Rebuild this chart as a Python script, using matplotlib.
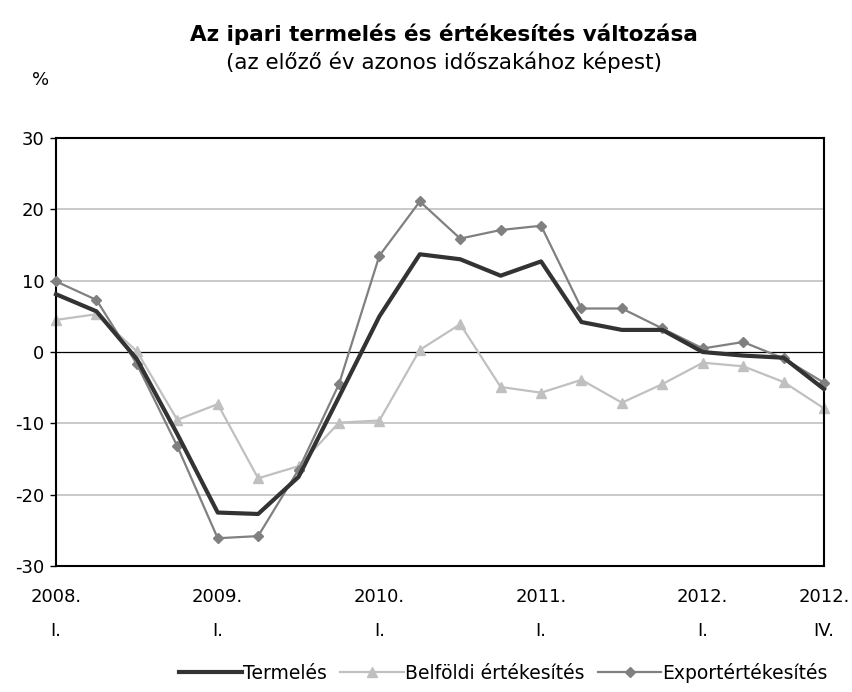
import numpy as np
import matplotlib.pyplot as plt

plt.rcParams['font.family'] = ['DejaVu Sans']
plt.rcParams['axes.unicode_minus'] = False

# quarters 2008 Q1 .. 2012 Q4
quarters = np.arange(20)
termeles = [8.1, 5.7, -1.0, -11.5, -22.5, -22.7, -17.5, -6.3, 5.0, 13.7,
            13.0, 10.7, 12.7, 4.2, 3.1, 3.1, 0.0, -0.5, -0.8, -5.2]
belfoldi = [4.5, 5.3, 0.1, -9.5, -7.3, -17.7, -16.0, -9.9, -9.6, 0.3,
            3.9, -4.9, -5.7, -3.9, -7.1, -4.5, -1.5, -2.0, -4.2, -7.9]
export = [9.9, 7.3, -1.7, -13.2, -26.1, -25.8, -16.5, -4.5, 13.5, 21.1,
          15.9, 17.1, 17.7, 6.1, 6.1, 3.3, 0.5, 1.4, -0.9, -4.3]
tick_pos = [0, 4, 8, 12, 16, 19]
tick_labels = ['2008.\nI.', '2009.\nI.', '2010.\nI.', '2011.\nI.', '2012.\nI.', '2012.\nIV.']

fig = plt.figure(figsize=(8.53, 6.92), dpi=100)
ax = fig.add_axes([0.0657, 0.182, 0.9003, 0.6186])

for y in [-20, -10, 10, 20]:
    ax.axhline(y, color='#c0c0c0', lw=1.2, zorder=1)
ax.axhline(0, color='black', lw=0.9, zorder=1)

ax.plot(quarters, belfoldi, color='#c0c0c0', lw=1.6, marker='^', ms=7,
        label='Belföldi értékesítés', zorder=2, clip_on=False)
ax.plot(quarters, export, color='#808080', lw=1.6, marker='D', ms=5.5,
        label='Exportértékesítés', zorder=3, clip_on=False)
ax.plot(quarters, termeles, color='#333333', lw=3, label='Termelés', zorder=4,
        clip_on=False)

ax.set_xlim(0, 19)
ax.set_ylim(-30, 30)
ax.set_yticks([-30, -20, -10, 0, 10, 20, 30])
ax.set_xticks(tick_pos)
ax.set_xticklabels(tick_labels, fontsize=13, linespacing=2.1)
ax.tick_params(axis='x', length=0, pad=16)
ax.tick_params(axis='y', labelsize=13, length=4.5, width=1, direction='out', pad=4)
for s in ax.spines.values():
    s.set_linewidth(1.5)
    s.set_color('black')

fig.text(0.52, 0.95, 'Az ipari termelés és értékesítés változása', ha='center',
         va='center', fontsize=15.5, fontweight='bold')
fig.text(0.52, 0.91, '(az előző év azonos időszakához képest)', ha='center',
         va='center', fontsize=15.5)
fig.text(0.047, 0.884, '%', ha='center', va='center', fontsize=13)

h, l = ax.get_legend_handles_labels()
order = [2, 0, 1]
fig.legend([h[i] for i in order], [l[i] for i in order], loc='center',
           bbox_to_anchor=(0.59, 0.028), ncol=3, frameon=False, fontsize=13.5,
           handlelength=3.4, handletextpad=0.05, columnspacing=0.7)

fig.savefig('out.png', dpi=100)
